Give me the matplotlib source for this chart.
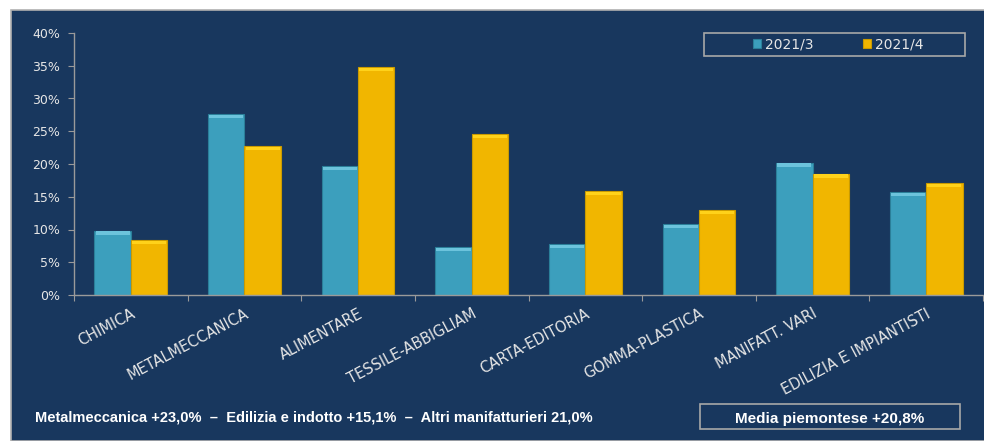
import matplotlib.pyplot as plt
import numpy as np
from matplotlib.patches import Rectangle

categories = ["CHIMICA", "METALMECCANICA", "ALIMENTARE", "TESSILE-ABBIGLIAM",
              "CARTA-EDITORIA", "GOMMA-PLASTICA", "MANIFATT. VARI",
              "EDILIZIA E IMPIANTISTI"]
q3 = [9.8, 27.6, 19.7, 7.3, 7.8, 10.8, 20.2, 15.7]
q4 = [8.4, 22.7, 34.8, 24.6, 15.9, 13.0, 18.5, 17.1]
series_names = ["2021/3", "2021/4"]
yticks = [0, 5, 10, 15, 20, 25, 30, 35, 40]
footer = "Metalmeccanica +23,0%  \u2013  Edilizia e indotto +15,1%  \u2013  Altri manifatturieri 21,0%"
media = "Media piemontese +20,8%"

navy = "#18375e"
teal = "#3c9fbd"
yellow = "#f1b600"
grey = "#9a9a9a"
txt = "#e6e6e6"

fig = plt.figure(figsize=(9.84, 4.41), dpi=100)
fig.patch.set_facecolor("white")
# dark panel behind the chart
fig.patches.append(Rectangle((11 / 984, 0), 1, 1 - 10 / 441, transform=fig.transFigure,
                             facecolor=navy, edgecolor="#b0b0b0", lw=1.2, zorder=-5))

ax = fig.add_axes([74 / 984, 1 - 295 / 441, (983 - 74) / 984, (295 - 33) / 441])
ax.set_facecolor("none")

x = np.arange(len(categories))
w = 0.32
ax.bar(x - w / 2, q3, w, color=teal, edgecolor="#2b7f99", lw=0.8, label=series_names[0], zorder=2)
ax.bar(x + w / 2, q4, w, color=yellow, edgecolor="#c99a00", lw=0.8, label=series_names[1], zorder=2)
# light top edge for a bit of the bevelled look
ax.bar(x - w / 2, [0.5] * len(q3), w * 0.94, bottom=np.array(q3) - 0.6, color="#6cc3dc", lw=0, zorder=3)
ax.bar(x + w / 2, [0.5] * len(q4), w * 0.94, bottom=np.array(q4) - 0.6, color="#ffd21a", lw=0, zorder=3)

ax.set_xlim(-0.5, len(categories) - 0.5)
ax.set_ylim(0, 40)
ax.set_yticks(yticks)
ax.set_yticklabels([f"{v}%" for v in yticks])

ax.set_xticks(np.arange(len(categories) + 1) - 0.5)
ax.set_xticklabels([])
ax.set_xticks(x, minor=True)
ax.set_xticklabels(categories, minor=True, rotation=28, ha="right",
                   rotation_mode="anchor", fontsize=10.5, color=txt, family="DejaVu Sans")
ax.tick_params(axis="x", which="minor", length=0, pad=8)
ax.tick_params(axis="x", which="major", length=4, color=grey, direction="out")
ax.tick_params(axis="y", length=4, color=grey, labelcolor=txt, labelsize=9, pad=6)

for s in ["top", "right"]:
    ax.spines[s].set_visible(False)
for s in ["left", "bottom"]:
    ax.spines[s].set_color(grey)
    ax.spines[s].set_linewidth(1)

# legend box
fig.patches.append(Rectangle((704 / 984, 1 - 56 / 441), (965 - 704) / 984, 23 / 441,
                             transform=fig.transFigure, facecolor="none",
                             edgecolor="#a8a8a8", lw=1.2, zorder=5))
fig.legend(loc="center", bbox_to_anchor=(838 / 984, 1 - 44.5 / 441), ncol=2, frameon=False,
           handlelength=0.6, handleheight=0.6, handletextpad=0.25, columnspacing=3.6,
           labelcolor=txt, prop={"size": 10})

fig.text(35 / 984, 1 - 417 / 441, footer, color="white", fontsize=10.5, weight="bold",
         family="Liberation Sans", va="center", ha="left")
fig.patches.append(Rectangle((700 / 984, 1 - 429 / 441), 260 / 984, 25 / 441,
                             transform=fig.transFigure, facecolor=navy,
                             edgecolor="#a8a8a8", lw=1.2, zorder=5))
fig.text(830 / 984, 1 - 417 / 441, media, color="white", fontsize=11, weight="bold",
         family="Liberation Sans", va="center_baseline", ha="center", zorder=6)

fig.savefig("out.png", dpi=100, facecolor=fig.get_facecolor())
